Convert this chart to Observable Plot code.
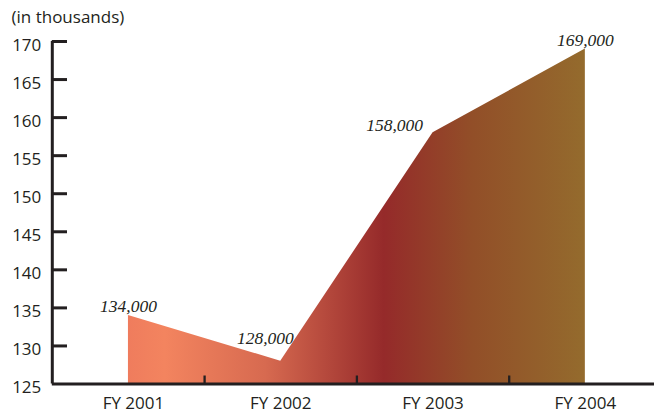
<!DOCTYPE html>
<html>
<head>
<meta charset="utf-8">
<script src="https://cdn.jsdelivr.net/npm/d3@7"></script>
<script src="https://cdn.jsdelivr.net/npm/@observablehq/plot@0.6"></script>
<style>
  html, body { margin: 0; padding: 0; background: #fff; overflow: hidden; }
</style>
</head>
<body>
<div id="chart"></div>
<script>
const categories = ["FY 2001", "FY 2002", "FY 2003", "FY 2004"];
const values = [134, 128, 158, 169];
const valueLabels = ["134,000", "128,000", "158,000", "169,000"];
const yTicks = [125, 130, 135, 140, 145, 150, 155, 160, 165, 170];
const unitLabel = "(in thousands)";

const data = categories.map((c, i) => ({ i, category: c, value: values[i], label: valueLabels[i] }));
const betweenTicks = categories.slice(1).map((_, i) => i + 0.5);
const yMin = yTicks[0], yMax = yTicks[yTicks.length - 1];
const xMin = -0.5, xMax = categories.length - 0.5;

const ink = "#231f20";
const sans = "'Open Sans', 'Noto Sans', sans-serif";
const serif = "'Liberation Serif', 'DejaVu Serif', serif";

const gradientDefs = () => {
  const defs = d3.create("svg:defs");
  const g = defs.append("linearGradient").attr("id", "areaGrad").attr("x1", "0").attr("x2", "1").attr("y1", "0").attr("y2", "0");
  [[0, "#ef7c5d"], [0.08, "#f3845f"], [0.3, "#d76a50"], [0.56, "#952a2a"], [0.75, "#924e28"], [1, "#946b2d"]]
    .forEach(([o, c]) => g.append("stop").attr("offset", o).attr("stop-color", c));
  return defs.node();
};

const byIndex = (k) => data.filter(d => d.i === k);
const valueStyle = { fontFamily: serif, fontStyle: "italic", fontSize: 17.5, fill: ink };

const chart = Plot.plot({
  width: 654,
  height: 413,
  marginTop: 0, marginRight: 0, marginBottom: 0, marginLeft: 0,
  style: { fontFamily: sans, color: ink, background: "#fff" },
  x: { type: "linear", domain: [xMin, xMax], range: [51.8, 661], axis: null },
  y: { domain: [yMin, yMax], range: [383.5, 41], axis: null },
  marks: [
    gradientDefs,
    Plot.areaY(data, { x: "i", y1: yMin, y2: "value", fill: "url(#areaGrad)" }),
    // x axis line and ticks
    Plot.ruleY([yMin], { x1: xMin, x2: xMax, stroke: ink, strokeWidth: 3 }),
    Plot.ruleX(betweenTicks, { y1: yMin, y2: yMin + 1.05, stroke: ink, strokeWidth: 2.3 }),
    // y axis line and ticks
    Plot.ruleX([xMin], { y1: yMin, y2: yMax, stroke: ink, strokeWidth: 3 }),
    Plot.ruleY(yTicks.slice(1), { x1: xMin, x2: xMin + 0.1, stroke: ink, strokeWidth: 3 }),
    Plot.text(yTicks, { x: xMin, y: d => d, text: d => String(d), textAnchor: "end", dx: -11, dy: 4, fontSize: 17, fill: ink }),
    // x labels
    Plot.text(byIndex(0), { x: "i", y: yMin, text: "category", dx: 5, dy: 20, fontSize: 17, fill: ink }),
    Plot.text(data.slice(1), { x: "i", y: yMin, text: "category", dy: 20, fontSize: 17, fill: ink }),
    // value labels
    Plot.text(byIndex(0), { x: "i", y: "value", text: "label", lineAnchor: "bottom", dy: -4, ...valueStyle }),
    Plot.text(byIndex(1), { x: "i", y: "value", text: "label", textAnchor: "end", lineAnchor: "bottom", dx: 13, dy: -17, ...valueStyle }),
    Plot.text(byIndex(2), { x: "i", y: "value", text: "label", textAnchor: "end", lineAnchor: "bottom", dx: -10, dy: -2, ...valueStyle }),
    Plot.text(byIndex(3), { x: "i", y: "value", text: "label", lineAnchor: "bottom", dy: -3, ...valueStyle }),
    // unit label
    Plot.text([unitLabel], { frameAnchor: "top-left", textAnchor: "start", lineAnchor: "top", dx: 11, dy: 10, fontSize: 17, fill: ink })
  ]
});
document.getElementById("chart").appendChild(chart);
</script>
</body>
</html>
